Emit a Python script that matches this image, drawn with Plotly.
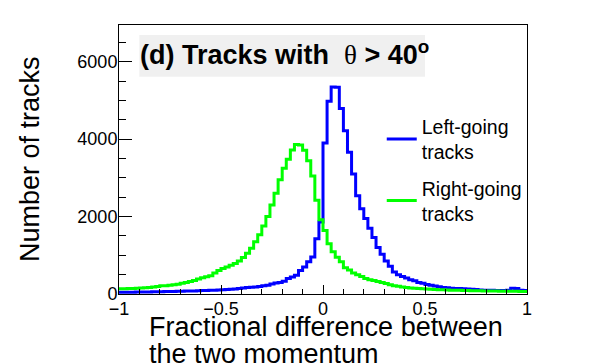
import numpy as np
import plotly.graph_objects as go

# 100 bins between -1 and 1
bin_edges = np.linspace(-1, 1, 101)

# Left-going tracks (blue)
left_going = [45, 46, 47, 48, 50, 50, 52, 54, 56, 58,
              60, 62, 65, 67, 70, 72, 75, 78, 80, 85,
              88, 90, 95, 100, 105, 110, 115, 120, 130, 140,
              155, 165, 175, 180, 195, 215, 225, 260, 285, 300,
              330, 400, 440, 485, 610, 700, 830, 955, 1430, 1860,
              3900, 4980, 5350, 5340, 4790, 4220, 3660, 3100, 2540, 2200,
              1950, 1700, 1460, 1200, 1030, 850, 720, 570, 500, 450,
              415, 370, 340, 300, 280, 245, 225, 205, 185, 170,
              160, 150, 145, 140, 135, 130, 120, 115, 105, 100,
              95, 95, 90, 92, 90, 95, 150, 145, 95, 90]

# Right-going tracks (green)
right_going = [135, 135, 140, 142, 148, 155, 160, 170, 180, 195,
               210, 215, 225, 240, 255, 275, 300, 325, 350, 385,
               420, 445, 470, 540, 610, 660, 700, 740, 790, 850,
               940, 1050, 1180, 1350, 1530, 1760, 2000, 2300, 2600, 2950,
               3250, 3480, 3720, 3860, 3850, 3715, 3440, 3050, 2420, 1920,
               1640, 1300, 1090, 950, 830, 680, 620, 540, 500, 450,
               400, 370, 350, 320, 300, 270, 240, 215, 200, 180,
               165, 158, 150, 145, 138, 128, 122, 117, 112, 108,
               104, 100, 97, 94, 91, 88, 86, 84, 82, 80,
               78, 76, 75, 74, 72, 71, 70, 68, 66, 65]

x_ticks = [-1, -0.5, 0, 0.5, 1]
y_ticks = [0, 2000, 4000, 6000]

FONT = "Liberation Sans, Arial, sans-serif"


def step(values):
    # histogram outline: value held across each bin
    return list(bin_edges), list(values) + [values[-1]]


fig = go.Figure()

xs, ys = step(left_going)
fig.add_trace(go.Scatter(x=xs, y=ys, mode="lines", line=dict(color="#0000ff", width=3, shape="hv"),
                         name="Left-going<br>tracks", legendgroup="a"))
xs, ys = step(right_going)
fig.add_trace(go.Scatter(x=xs, y=ys, mode="lines", line=dict(color="#00ff00", width=3, shape="hv"),
                         name="Right-going<br>tracks", legendgroup="b"))

fig.update_xaxes(range=[-1, 1], tickvals=x_ticks, ticktext=["\u22121", "\u22120.5", "0", "0.5", "1"],
                 ticks="inside", ticklen=9, tickcolor="black", showline=True, linecolor="black",
                 linewidth=1, mirror=True, showgrid=False, zeroline=False, ticklabelstandoff=-2,
                 tickfont=dict(family=FONT, size=18, color="black"),
                 minor=dict(ticks="inside", ticklen=5, dtick=0.1, tickcolor="black", showgrid=False))
fig.update_yaxes(range=[0, 6950], tickvals=y_ticks, ticks="inside", ticklen=13, tickcolor="black",
                 showline=True, linecolor="black", linewidth=1, mirror=True, showgrid=False,
                 zeroline=False, ticklabelstandoff=-3,
                 tickfont=dict(family=FONT, size=18, color="black"),
                 minor=dict(ticks="inside", ticklen=7, dtick=500, tickcolor="black", showgrid=False))

# grey box behind the panel title
fig.add_shape(type="rect", xref="paper", yref="paper", x0=0.0498, x1=0.75, y0=0.8076, y1=0.9628,
              fillcolor="#f0f0f0", line=dict(width=0), layer="below")
fig.add_annotation(xref="paper", yref="paper", x=0.0498, y=0.897, xanchor="left", yanchor="middle",
                   borderpad=0, showarrow=False,
                   text="<b>(d) Tracks with</b>\u00a0\u00a0<span style='font-family:Liberation Serif'>\u03b8</span>"
                        "<b>\u00a0> 40<sup>o</sup></b>",
                   font=dict(family=FONT, size=27, color="black"))

fig.add_annotation(xref="paper", yref="paper", x=0.0679, y=-0.124, xanchor="left", yanchor="middle",
                   showarrow=False, text="Fractional difference between",
                   font=dict(family=FONT, size=27, color="black"))
fig.add_annotation(xref="paper", yref="paper", x=0.0679, y=-0.222, xanchor="left", yanchor="middle",
                   showarrow=False, text="the two momentum",
                   font=dict(family=FONT, size=27, color="black"))
fig.add_annotation(xref="paper", yref="paper", x=-0.2197, y=0.503, xanchor="center", yanchor="middle",
                   showarrow=False, textangle=-90, text="Number of tracks",
                   font=dict(family=FONT, size=27, color="black"))

# page body adds an 8 px offset, so margins are trimmed to keep the frame at 119..527 / 25..294
fig.update_layout(width=598, height=364, autosize=False,
                  margin=dict(l=111, r=79, t=17, b=78),
                  paper_bgcolor="white", plot_bgcolor="white",
                  showlegend=True,
                  legend=dict(x=0.644, y=0.695, xanchor="left", yanchor="top",
                              bgcolor="rgba(0,0,0,0)", tracegroupgap=8,
                              font=dict(family=FONT, size=19.5, color="black")))

fig.write_html("out.html", config={"displayModeBar": False})
